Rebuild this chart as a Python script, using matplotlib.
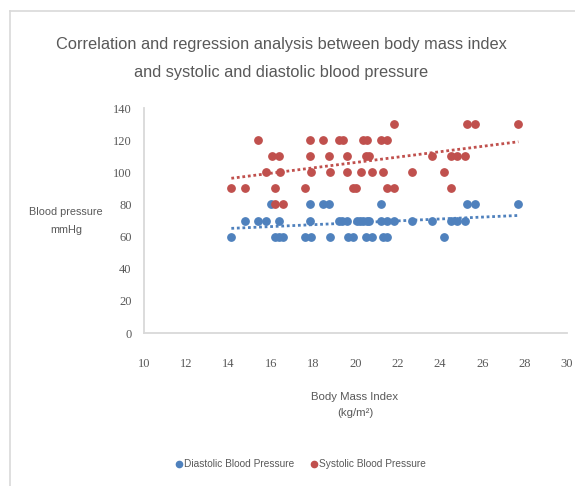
import matplotlib
matplotlib.use("Agg")
import matplotlib.pyplot as plt
import numpy as np
from matplotlib.lines import Line2D

# BMI / blood pressure readings taken off the chart
sys_bmi = [15.37, 17.85, 18.48, 19.24, 19.39, 20.37, 20.53, 21.19, 21.47,
           21.82, 25.27, 25.65, 27.70,
           16.04, 16.40, 17.85, 18.75, 19.62, 20.48, 20.64, 23.60, 24.52, 24.78, 25.18,
           15.77, 16.43, 17.90, 18.79, 19.62, 20.24, 20.79, 21.28, 22.67, 24.20,
           14.13, 14.79, 16.19, 17.61, 19.90, 20.03, 21.50, 21.82, 24.52,
           16.19, 16.56]
sys_bp = [120] * 9 + [130] * 4 + [110] * 11 + [100] * 10 + [90] * 9 + [80] * 2

dia_bmi = [16.00, 17.85, 18.48, 18.75, 21.19, 25.27, 25.65, 27.70,
           14.79, 15.37, 15.77, 16.40, 17.85, 19.20, 19.38, 19.58, 20.06, 20.21, 20.37,
           20.53, 20.66, 21.19, 21.47, 21.82, 22.67, 23.60, 24.52, 24.78, 25.18,
           14.13, 16.19, 16.40, 16.56, 17.61, 17.90, 18.79, 19.63, 19.90, 20.50,
           20.79, 21.28, 21.47, 24.20]
dia_bp = [80] * 8 + [70] * 21 + [60] * 14

x_ticks = list(range(10, 31, 2))
y_ticks = list(range(0, 141, 20))

BLUE = "#4F81BD"
RED = "#C0504D"
GRAY = "#595959"
GRID = "#D9D9D9"
SANS = ["Liberation Sans", "DejaVu Sans"]
SERIF = ["Liberation Serif", "DejaVu Serif"]

fig = plt.figure(figsize=(5.75, 4.86), dpi=100)
ax = fig.add_axes([144 / 575, 1 - 333 / 486, 423 / 575, 225 / 486])

ax.scatter(dia_bmi, dia_bp, s=28, color=BLUE, label="Diastolic Blood Pressure", zorder=3)
ax.scatter(sys_bmi, sys_bp, s=28, color=RED, label="Systolic Blood Pressure", zorder=3)

# linear trendlines over the data range
for xs, ys, c in [(dia_bmi, dia_bp, BLUE), (sys_bmi, sys_bp, RED)]:
    k, b = np.polyfit(xs, ys, 1)
    xr = np.array([min(xs), max(xs)])
    ax.plot(xr, k * xr + b, color=c, linestyle=(0, (1, 1)), linewidth=2, zorder=2)

ax.set_xlim(10, 30)
ax.set_ylim(0, 140)
ax.set_xticks(x_ticks)
ax.set_yticks(y_ticks)
ax.tick_params(length=0, colors=GRAY, labelsize=9)
ax.tick_params(axis="x", pad=18)
ax.tick_params(axis="y", pad=9)
for lbl in ax.get_xticklabels() + ax.get_yticklabels():
    lbl.set_family(SERIF)
for side in ["top", "right"]:
    ax.spines[side].set_visible(False)
for side in ["left", "bottom"]:
    ax.spines[side].set_color(GRID)
    ax.spines[side].set_linewidth(1.3)

fig.text(281 / 575, 1 - 58.5 / 486,
         "Correlation and regression analysis between body mass index\nand systolic and diastolic blood pressure",
         ha="center", va="center", fontsize=11.8, color=GRAY, family=SANS, linespacing=2.0)
fig.text(66 / 575, 1 - 221 / 486, "Blood pressure\nmmHg", ha="center", va="center",
         fontsize=7.8, color=GRAY, family=SANS, linespacing=1.9)
fig.text(355 / 575, 1 - 405 / 486, "Body Mass Index\n(kg/m²)", ha="center", va="center",
         fontsize=8.2, color=GRAY, family=SANS, linespacing=1.8)

leg = fig.legend(loc="center", bbox_to_anchor=(300 / 575, 1 - 464 / 486), ncol=2,
                 frameon=False, prop={"family": SANS, "size": 7.3}, handletextpad=0.0,
                 handlelength=1.0, columnspacing=1.5, markerscale=0.85)
for t in leg.get_texts():
    t.set_color(GRAY)

# chart area border
fig.add_artist(Line2D([10 / 575, 1], [1 - 11.5 / 486] * 2, color=GRID, lw=1.2))
fig.add_artist(Line2D([10 / 575] * 2, [0, 1 - 11.5 / 486], color=GRID, lw=1.2))

fig.savefig("out.png", dpi=100, facecolor="white")
